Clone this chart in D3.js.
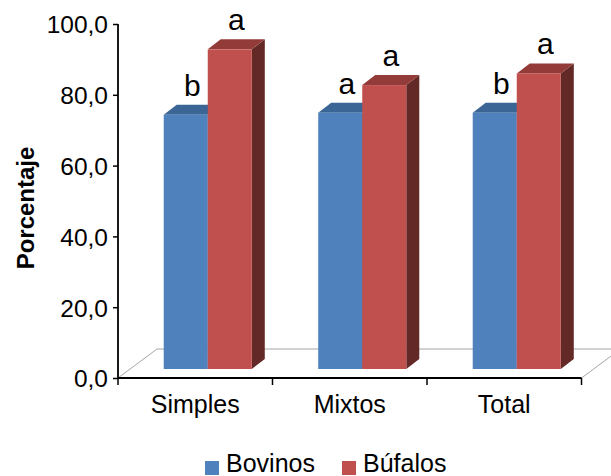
<!DOCTYPE html>
<html>
<head>
<meta charset="utf-8">
<script src="https://cdn.jsdelivr.net/npm/d3@7"></script>
<style>
  body { margin: 0; background: #fff; }
  text { font-family: "Liberation Sans", Arial, sans-serif; fill: #000; }
</style>
</head>
<body>
<svg id="chart" width="611" height="476"></svg>
<script>
let categories = ['Simples', 'Mixtos', 'Total']
let seriesNames = ['Bovinos', 'Búfalos']
let bovinos = [71.8, 72.4, 72.4]
let bufalos = [90.3, 80.2, 83.5]
let bovinosLetters = ['b', 'a', 'b']
let bufalosLetters = ['a', 'a', 'a']
let yTicks = [0, 20, 40, 60, 80, 100]

let colors = {
    Bovinos: {front: '#4f81bd', top: '#3b6594', side: '#2c4d75'},
    'Búfalos': {front: '#c0504d', top: '#923b39', side: '#632927'},
}

let svg = d3.select('#chart')

// front-left corner of the plot and oblique depth offsets
let x0 = 118, x1 = 581.5
let floorDepth = {dx: 39, dy: -29}
let faceDepth = {dx: 12.5, dy: -9}   // where the bar front face sits
let barDepth = {dx: 13, dy: -10}

let y = d3.scaleLinear().domain([0, 100]).range([378, 24])

let x = d3.scaleBand()
    .domain(categories)
    .range([x0, x1])
    .paddingInner(0.43)
    .paddingOuter(0.215)

let xs = d3.scaleBand()
    .domain(seriesNames)
    .range([0, x.bandwidth()])

let data = categories.map((c, i) => ({
    category: c,
    values: [
        {series: 'Bovinos', value: bovinos[i], letter: bovinosLetters[i]},
        {series: 'Búfalos', value: bufalos[i], letter: bufalosLetters[i]},
    ]
}))

// floor
let floorY = y(0)
let floor = svg.append('g')
    .attr('fill', 'none')
    .attr('stroke', '#a6a6a6')
    .attr('stroke-width', 1)
floor.append('path')
    .attr('d', d3.line()([
        [x0, floorY],
        [x0 + floorDepth.dx, floorY + floorDepth.dy],
        [x1 + floorDepth.dx, floorY + floorDepth.dy],
        [x1, floorY],
    ]))

// bars
let poly = d3.line()
data.forEach(d => {
    let g = svg.append('g')
    d.values.forEach(v => {
        let c = colors[v.series]
        let left = x(d.category) + xs(v.series) + faceDepth.dx
        let right = left + xs.bandwidth()
        let bottom = y(0) + faceDepth.dy
        let top = y(v.value) + faceDepth.dy
        let bx = barDepth.dx, by = barDepth.dy

        g.append('path')
            .attr('d', poly([[right, top], [right + bx, top + by], [right + bx, bottom + by], [right, bottom]]) + 'Z')
            .attr('fill', c.side)
        g.append('path')
            .attr('d', poly([[left, top], [left + bx, top + by], [right + bx, top + by], [right, top]]) + 'Z')
            .attr('fill', c.top)
        g.append('rect')
            .attr('x', left)
            .attr('y', top)
            .attr('width', xs.bandwidth())
            .attr('height', bottom - top)
            .attr('fill', c.front)

        svg.append('text')
            .attr('x', (left + right) / 2 + 6.5)
            .attr('y', top + by - 9)
            .attr('text-anchor', 'middle')
            .style('font-size', '30px')
            .text(v.letter)
    })
})

// y axis
let yAxis = svg.append('g')
    .attr('transform', `translate(${x0},0)`)
    .call(d3.axisLeft(y)
        .tickValues(yTicks)
        .tickSize(5)
        .tickPadding(5)
        .tickFormat(d => d3.format('.1f')(d).replace('.', ',')))
yAxis.select('.domain').attr('stroke', '#000').attr('stroke-width', 1.8)
    .attr('d', `M0,${y(100)}V${y(0)}`)
yAxis.selectAll('.tick line').attr('stroke', '#000').attr('stroke-width', 1.5)
yAxis.selectAll('.tick text').style('font-size', '24.5px').attr('dy', '0.36em')

// x axis (front edge of floor)
let xAxis = svg.append('g')
    .attr('transform', `translate(0,${y(0)})`)
xAxis.append('line')
    .attr('x1', x0).attr('x2', x1)
    .attr('stroke', '#000').attr('stroke-width', 1.8)
let bounds = categories.map(c => x(c) - x.step() * x.paddingInner() / 2)
bounds.push(x1)
xAxis.selectAll('.xtick')
    .data(bounds)
    .join('line')
    .attr('x1', d => d).attr('x2', d => d)
    .attr('y1', 0).attr('y2', 7)
    .attr('stroke', '#000').attr('stroke-width', 1.5)
xAxis.selectAll('.xlabel')
    .data(categories)
    .join('text')
    .attr('x', d => x(d) + x.bandwidth() / 2)
    .attr('y', 35)
    .attr('text-anchor', 'middle')
    .style('font-size', '25px')
    .text(d => d)

// y title
svg.append('text')
    .attr('transform', 'translate(34,208) rotate(-90)')
    .attr('text-anchor', 'middle')
    .style('font-size', '24px')
    .style('font-weight', 'bold')
    .text('Porcentaje')

// legend
let legend = svg.append('g')
let legendX = [205, 342]
seriesNames.forEach((s, i) => {
    legend.append('rect')
        .attr('x', legendX[i]).attr('y', 461)
        .attr('width', 14).attr('height', 14)
        .attr('fill', colors[s].front)
    legend.append('text')
        .attr('x', legendX[i] + 21)
        .attr('y', 472)
        .style('font-size', '25px')
        .text(s)
})
</script>
</body>
</html>
